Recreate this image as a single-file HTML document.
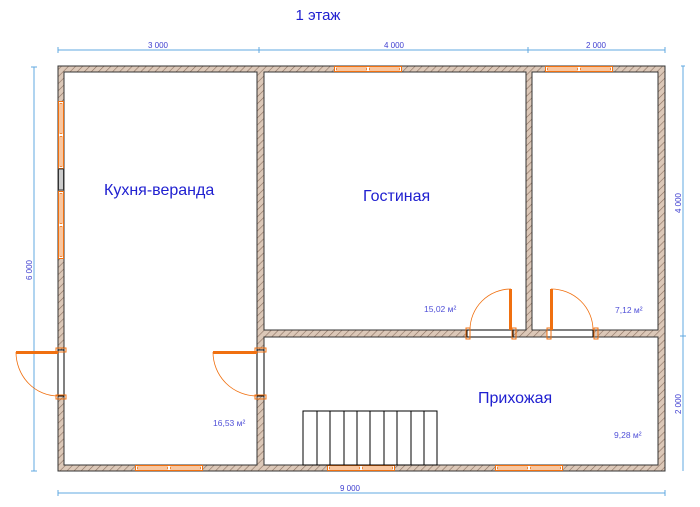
<!DOCTYPE html>
<html><head><meta charset="utf-8"><style>
body{margin:0;background:#fff;width:700px;height:507px;overflow:hidden}
svg{display:block}
text{font-family:"Liberation Sans",sans-serif}
</style></head><body>
<svg width="700" height="507" viewBox="0 0 700 507" xmlns="http://www.w3.org/2000/svg">
<defs>
<pattern id="h" width="5" height="5" patternUnits="userSpaceOnUse" patternTransform="rotate(45)">
<rect width="5" height="5" fill="#dcc8b8"/><line x1="0" y1="0" x2="0" y2="5" stroke="#8a7060" stroke-width="1.2"/>
</pattern>
<g id="winH"><rect x="0.5" y="0.5" width="67" height="5" fill="#fff" stroke="#f07010" stroke-width="1"/><rect x="2.5" y="2" width="30" height="2" fill="#fff" stroke="#f07010" stroke-width="0.8"/><rect x="35.5" y="2" width="30" height="2" fill="#fff" stroke="#f07010" stroke-width="0.8"/></g>
</defs>
<text x="318" y="20" font-size="15" fill="#2020d0" text-anchor="middle">1 этаж</text>
<g stroke="#60a8e0" stroke-width="1" fill="none">
<line x1="58" y1="50" x2="665" y2="50"/>
<line x1="58" y1="47" x2="58" y2="53"/><line x1="259" y1="47" x2="259" y2="53"/><line x1="528" y1="47" x2="528" y2="53"/><line x1="665" y1="47" x2="665" y2="53"/>
<line x1="34" y1="67" x2="34" y2="471"/><line x1="31" y1="67" x2="37" y2="67"/><line x1="31" y1="471" x2="37" y2="471"/>
<line x1="683" y1="66" x2="683" y2="471"/><line x1="680" y1="336" x2="686" y2="336"/><line x1="681" y1="66" x2="685" y2="66"/>
<line x1="58" y1="493" x2="665" y2="493"/><line x1="58" y1="490" x2="58" y2="496"/><line x1="665" y1="490" x2="665" y2="496"/>
</g>
<g font-size="8" fill="#4040d0" text-anchor="middle">
<text x="158" y="48">3 000</text><text x="394" y="48">4 000</text><text x="596" y="48">2 000</text>
<text x="350" y="491">9 000</text>
<text transform="translate(32,270) rotate(-90)">6 000</text>
<text transform="translate(681,203) rotate(-90)">4 000</text>
<text transform="translate(681,404) rotate(-90)">2 000</text>
</g>
<!-- walls -->
<rect x="58" y="66" width="607" height="405" fill="url(#h)" stroke="#333" stroke-width="1"/>
<g fill="#fff" stroke="#333" stroke-width="1">
<rect x="64" y="72" width="193" height="393"/>
<rect x="264" y="72" width="262" height="258"/>
<rect x="532" y="72" width="126" height="258"/>
<rect x="264" y="337" width="394" height="128"/>
</g>
<use href="#winH" x="334" y="66"/><use href="#winH" x="545" y="66"/>
<use href="#winH" x="135" y="465"/><use href="#winH" x="327" y="465"/><use href="#winH" x="495" y="465"/>
<g transform="translate(64,101) rotate(90)"><use href="#winH"/></g>
<g transform="translate(64,191) rotate(90)"><use href="#winH"/></g>
<rect x="58.5" y="169" width="5" height="21" fill="#ccc" stroke="#333" stroke-width="1"/>
<g fill="#fff" stroke="#000" stroke-width="1">
<rect x="58" y="350" width="6" height="46"/>
<rect x="257" y="350" width="7" height="46"/>
<rect x="467" y="330" width="46" height="7"/>
<rect x="547" y="330" width="46" height="7"/>
</g>
<g fill="none" stroke="#f07010" stroke-width="1">
<rect x="56" y="348" width="10" height="4"/><rect x="56" y="395" width="10" height="4"/>
<rect x="255" y="348" width="11" height="4"/><rect x="255" y="395" width="11" height="4"/>
<rect x="466" y="328" width="4" height="11"/><rect x="512" y="328" width="4" height="11"/>
<rect x="547" y="328" width="4" height="11"/><rect x="594" y="328" width="4" height="11"/>
<path d="M16,352 A42,44 0 0 0 58,396" stroke-width="0.8"/>
<path d="M213,352 A44,44 0 0 0 257,396" stroke-width="0.8"/>
<path d="M470,330 A41,41 0 0 1 511,289" stroke-width="0.8"/>
<path d="M551,289 A42,41 0 0 1 593,330" stroke-width="0.8"/>
</g>
<g fill="#f07010">
<rect x="16" y="351" width="42" height="3"/>
<rect x="213" y="351" width="44" height="3"/>
<rect x="509" y="289" width="3" height="41"/>
<rect x="550" y="289" width="3" height="41"/>
</g>
<g fill="none" stroke="#000" stroke-width="1">
<rect x="303" y="411" width="134" height="54"/>
<line x1="317" y1="411" x2="317" y2="465"/><line x1="330" y1="411" x2="330" y2="465"/><line x1="344" y1="411" x2="344" y2="465"/><line x1="357" y1="411" x2="357" y2="465"/><line x1="370" y1="411" x2="370" y2="465"/><line x1="384" y1="411" x2="384" y2="465"/><line x1="397" y1="411" x2="397" y2="465"/><line x1="411" y1="411" x2="411" y2="465"/><line x1="424" y1="411" x2="424" y2="465"/>
</g>
<g font-size="16" fill="#2020d0">
<text x="104" y="195">Кухня-веранда</text>
<text x="363" y="201">Гостиная</text>
<text x="478" y="403">Прихожая</text>
</g>
<g font-size="8.5" fill="#5050d8">
<text x="213" y="426">16,53 м²</text>
<text x="424" y="312">15,02 м²</text>
<text x="615" y="313">7,12 м²</text>
<text x="614" y="438">9,28 м²</text>
</g>
</svg>
</body></html>
